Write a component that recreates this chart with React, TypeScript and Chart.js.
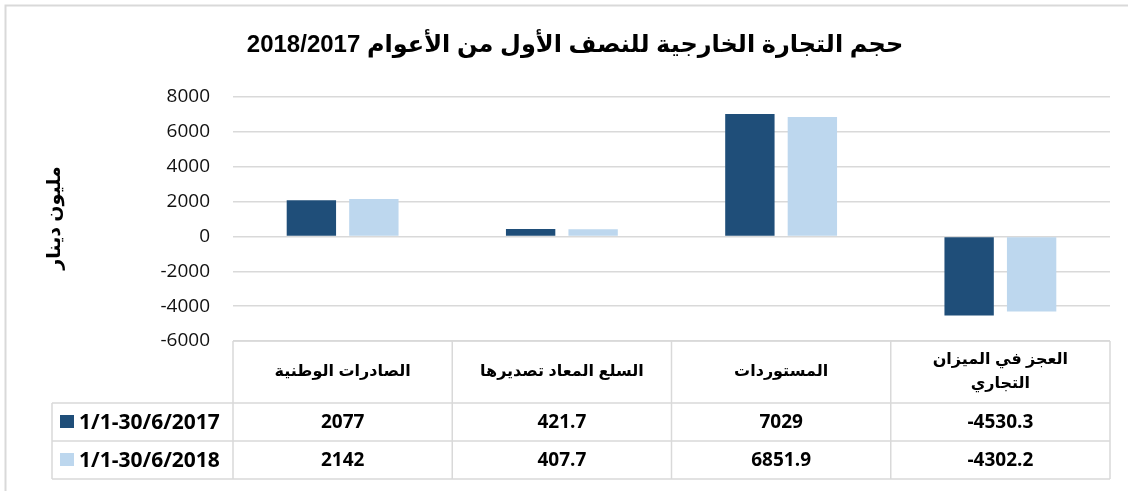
import React, { useEffect, useRef } from 'react';
import { Chart, registerables } from 'chart.js';

Chart.register(...registerables);

const chartTitle = 'حجم التجارة الخارجية للنصف الأول من الأعوام 2018/2017';
const yAxisTitle = 'مليون دينار';
const categories = ['الصادرات الوطنية', 'السلع المعاد تصديرها', 'المستوردات', 'العجز في الميزان التجاري'];
const headerLines = [['الصادرات الوطنية'], ['السلع المعاد تصديرها'], ['المستوردات'], ['العجز في الميزان', 'التجاري']];
const seriesNames = ['1/1-30/6/2017', '1/1-30/6/2018'];
const series2017 = [2077, 421.7, 7029, -4530.3];
const series2018 = [2142, 407.7, 6851.9, -4302.2];
const seriesColors = ['#1F4E79', '#BDD7EE'];
const yMin = -6000;
const yMax = 8000;
const yStep = 2000;

const GRID = '#d9d9d9';
const NUM_FONT = '"Open Sans", "Noto Sans", sans-serif';
const AR_FONT = 'Arial, "Liberation Sans", "DejaVu Sans", sans-serif';

const tablePlugin = {
  id: 'tablePlugin',
  afterDraw(chart: any) {
    const { ctx, chartArea } = chart;
    const xs = chart.scales.x;
    const n = categories.length;
    const colW = (chartArea.right - chartArea.left) / n;
    const headerTop = chartArea.bottom;
    const headerH = 62;
    const rowH = 38;
    const legendLeft = 52;
    const rows = [series2017, series2018];

    ctx.save();
    // outer border (top & left visible)
    ctx.strokeStyle = GRID;
    ctx.lineWidth = 2;
    ctx.beginPath();
    ctx.moveTo(5.5, 491);
    ctx.lineTo(5.5, 5.5);
    ctx.lineTo(1128, 5.5);
    ctx.stroke();

    // title
    ctx.fillStyle = '#000';
    ctx.font = 'bold 24px ' + AR_FONT;
    ctx.direction = 'rtl';
    ctx.textAlign = 'center';
    ctx.textBaseline = 'middle';
    ctx.fillText(chartTitle, 575, 45);

    // y axis title
    ctx.save();
    ctx.translate(55, 218);
    ctx.rotate(-Math.PI / 2);
    ctx.font = 'bold 19px ' + AR_FONT;
    ctx.fillText(yAxisTitle, 0, 0);
    ctx.restore();

    // table lines
    ctx.strokeStyle = GRID;
    ctx.lineWidth = 1.5;
    const bottom = headerTop + headerH + rowH * rows.length;
    ctx.beginPath();
    ctx.moveTo(chartArea.left, headerTop);
    ctx.lineTo(chartArea.right, headerTop);
    for (let r = 0; r <= rows.length; r++) {
      const y = headerTop + headerH + rowH * r;
      ctx.moveTo(legendLeft, y);
      ctx.lineTo(chartArea.right, y);
    }
    for (let i = 0; i <= n; i++) {
      const x = chartArea.left + colW * i;
      ctx.moveTo(x, headerTop);
      ctx.lineTo(x, bottom);
    }
    ctx.moveTo(legendLeft, headerTop + headerH);
    ctx.lineTo(legendLeft, bottom);
    ctx.stroke();

    // header texts
    ctx.fillStyle = '#000';
    ctx.font = 'bold 16px ' + AR_FONT;
    ctx.direction = 'rtl';
    ctx.textAlign = 'center';
    for (let i = 0; i < n; i++) {
      const cx = xs.getPixelForTick(i);
      const lines = headerLines[i];
      const lh = 24;
      const cy = headerTop + headerH / 2 - ((lines.length - 1) * lh) / 2;
      lines.forEach((t, k) => ctx.fillText(t, cx, cy + k * lh));
    }

    // rows
    ctx.direction = 'ltr';
    rows.forEach((vals, r) => {
      const cy = headerTop + headerH + rowH * r + rowH / 2;
      ctx.fillStyle = seriesColors[r];
      ctx.fillRect(60, cy - 7, 14, 13);
      ctx.fillStyle = '#000';
      ctx.font = 'bold 21px ' + NUM_FONT;
      ctx.textAlign = 'left';
      ctx.fillText(seriesNames[r], 79, cy + 1);
      ctx.font = 'bold 19px ' + NUM_FONT;
      ctx.textAlign = 'center';
      vals.forEach((v, i) => {
        ctx.fillText(String(v), xs.getPixelForTick(i), cy + 1);
      });
    });
    ctx.restore();
  },
};

export default function App() {
  const ref = useRef<HTMLCanvasElement>(null);
  useEffect(() => {
    if (!ref.current) return;
    const chart = new Chart(ref.current, {
      type: 'bar',
      data: {
        labels: categories,
        datasets: [
          { label: seriesNames[0], data: series2017, backgroundColor: seriesColors[0], borderWidth: 0, categoryPercentage: 0.57, barPercentage: 0.79 },
          { label: seriesNames[1], data: series2018, backgroundColor: seriesColors[1], borderWidth: 0, categoryPercentage: 0.57, barPercentage: 0.79 },
        ],
      },
      options: {
        responsive: false,
        animation: false,
        devicePixelRatio: 1,
        layout: { padding: { top: 97, right: 18, bottom: 150, left: 0 } },
        plugins: { legend: { display: false }, title: { display: false }, tooltip: { enabled: false } },
        scales: {
          x: { display: false },
          y: {
            min: yMin,
            max: yMax,
            border: { display: false },
            grid: { color: GRID, lineWidth: 1.5, drawTicks: false },
            ticks: {
              stepSize: yStep,
              padding: 23,
              color: '#111',
              font: { family: NUM_FONT, size: 19 },
              callback: (v: any) => String(v),
            },
            afterFit(scale: any) { scale.width = 233; },
          },
        },
      },
      plugins: [tablePlugin],
    });
    return () => chart.destroy();
  }, []);
  return (
    <div style={{ position: 'absolute', left: 0, top: 0, width: 1128, height: 491, background: '#fff' }}>
      <canvas ref={ref} width={1128} height={491} />
    </div>
  );
}
